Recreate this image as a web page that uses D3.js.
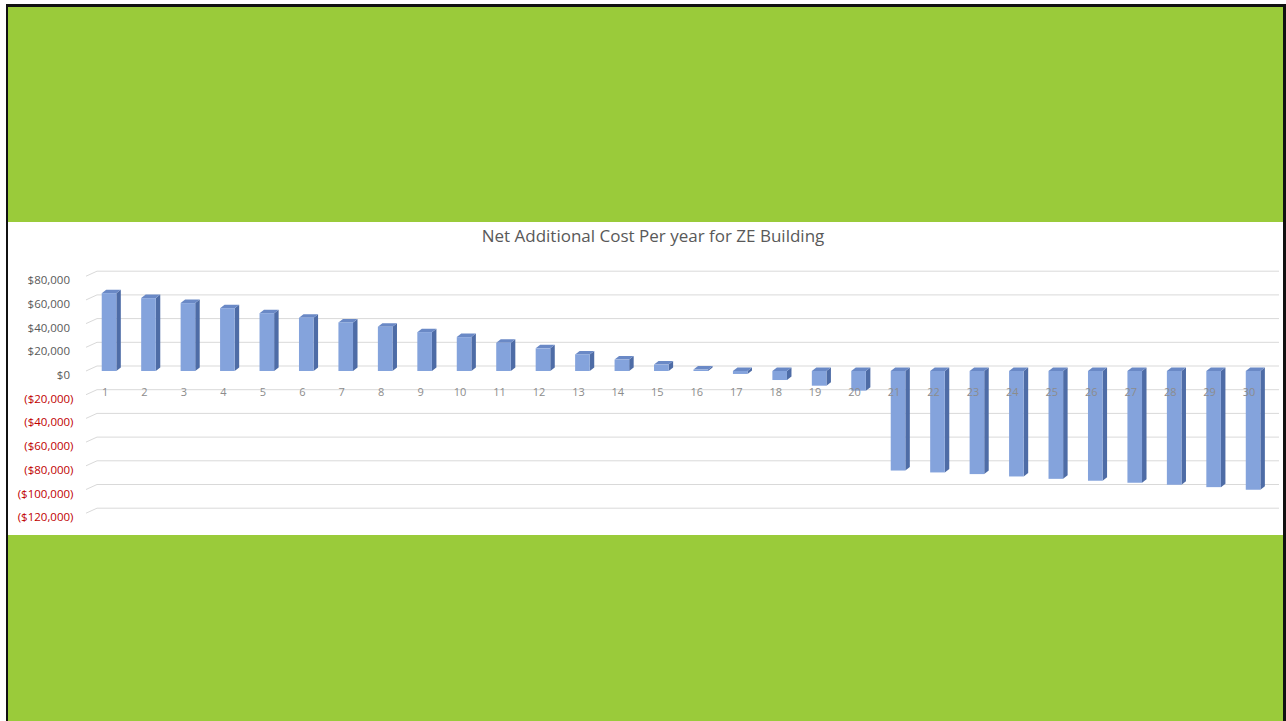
<!DOCTYPE html>
<html>
<head>
<meta charset="utf-8">
<script src="https://cdn.jsdelivr.net/npm/d3@7"></script>
<style>
  body { margin: 0; background: #fff; }
  svg { display: block; }
</style>
</head>
<body>
<svg id="chart" width="1286" height="721"></svg>
<script>
// chart data
const years = [1, 2, 3, 4, 5, 6, 7, 8, 9, 10, 11, 12, 13, 14, 15,
               16, 17, 18, 19, 20, 21, 22, 23, 24, 25, 26, 27, 28, 29, 30];
const netCost = [65700, 61500, 57300, 53000, 48800, 44900, 41000, 37300, 32800, 28600,
                 23800, 19100, 14000, 9600, 5400, 1200, -2500, -7600, -12400, -16600,
                 -84000, -85600, -87000, -89000, -91000, -92600, -94300, -96000, -98000, -100200];
const yTicks = [80000, 60000, 40000, 20000, 0, -20000, -40000, -60000, -80000, -100000, -120000];
const title = "Net Additional Cost Per year for ZE Building";

let svg = d3.select("#chart");

// slide frame
svg.append("rect").attr("x", 6).attr("y", 4).attr("width", 1280).attr("height", 717).attr("fill", "#111");
svg.append("rect").attr("x", 8).attr("y", 7).attr("width", 1275).attr("height", 714).attr("fill", "#9acb3a");
svg.append("rect").attr("x", 8).attr("y", 222).attr("width", 1275).attr("height", 313).attr("fill", "#fff");

let xScale = d3.scaleBand()
    .domain(years)
    .range([89.3, 1272.8])
    .paddingInner(0.63)
    .paddingOuter(0.315);

let yScale = d3.scaleLinear()
    .domain([-120000, 80000])
    .range([513.2, 276.2]);

// depth offsets for the fake 3d look
let wallDx = 11, wallDy = -5;
let barDx = 4.5, barDy = -3.5;

// gridlines on the back wall, with the little slanted bit on the side wall
let grid = svg.append("g");
grid.selectAll("line.h").data(yTicks).enter().append("line")
    .attr("x1", 86 + wallDx).attr("x2", 1279)
    .attr("y1", d => yScale(d) + wallDy).attr("y2", d => yScale(d) + wallDy)
    .attr("stroke", "#d9d9d9").attr("stroke-width", 1);
grid.selectAll("line.d").data(yTicks).enter().append("line")
    .attr("x1", 86).attr("x2", 86 + wallDx)
    .attr("y1", d => yScale(d)).attr("y2", d => yScale(d) + wallDy)
    .attr("stroke", "#d9d9d9").attr("stroke-width", 1);

// y labels
let money = d3.format(",");
svg.append("g").selectAll("text").data(yTicks).enter().append("text")
    .attr("x", d => d < 0 ? 73.5 : 70)
    .attr("y", d => yScale(d) + 4)
    .attr("dy", "0.35em")
    .attr("text-anchor", "end")
    .attr("font-family", "Open Sans, sans-serif")
    .attr("font-size", 11.5)
    .attr("fill", d => d < 0 ? "#c00000" : "#595959")
    .text(d => d < 0 ? "($" + money(-d) + ")" : "$" + money(d));

// bars
let bw = xScale.bandwidth();
let bars = svg.append("g").selectAll("g").data(years).enter().append("g");

let topOf = (d, i) => Math.min(yScale(netCost[i]), yScale(0));
let botOf = (d, i) => Math.max(yScale(netCost[i]), yScale(0));

bars.append("polygon")
    .attr("points", function (d, i) {
        let x = xScale(d) + bw, t = topOf(d, i), b = botOf(d, i);
        return [[x, t], [x + barDx, t + barDy], [x + barDx, b + barDy], [x, b]].join(" ");
    })
    .attr("fill", "#4e6ca6");

bars.append("polygon")
    .attr("points", function (d, i) {
        let x = xScale(d), t = topOf(d, i);
        return [[x, t], [x + barDx, t + barDy], [x + bw + barDx, t + barDy], [x + bw, t]].join(" ");
    })
    .attr("fill", "#6a89c6");

bars.append("rect")
    .attr("x", d => xScale(d))
    .attr("y", topOf)
    .attr("width", bw)
    .attr("height", (d, i) => botOf(d, i) - topOf(d, i))
    .attr("fill", "#84a3dc");

// category labels sit over the bars
svg.append("g").selectAll("text").data(years).enter().append("text")
    .attr("x", d => xScale(d) + bw / 2 - 4)
    .attr("y", 392.5)
    .attr("dy", "0.35em")
    .attr("text-anchor", "middle")
    .attr("font-family", "Open Sans, sans-serif")
    .attr("font-size", 11)
    .attr("fill", "#8c8c8c")
    .text(d => d);

svg.append("text")
    .attr("x", 653)
    .attr("y", 242)
    .attr("text-anchor", "middle")
    .attr("font-family", "Open Sans, sans-serif")
    .attr("font-size", 17)
    .attr("fill", "#595959")
    .text(title);
</script>
</body>
</html>
